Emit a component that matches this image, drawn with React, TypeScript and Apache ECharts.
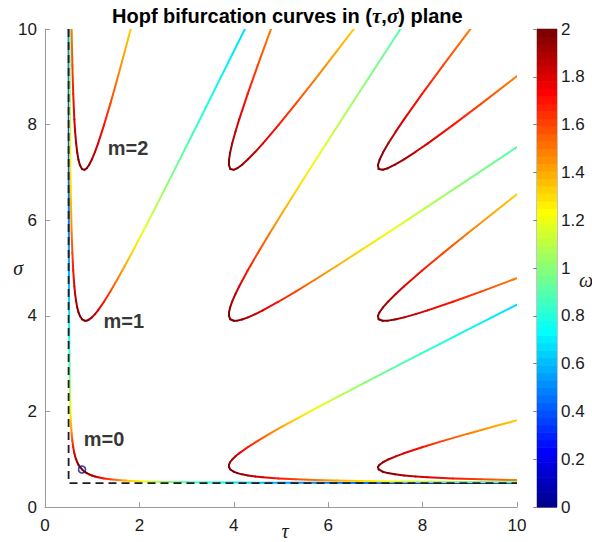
import React, { useEffect, useRef } from "react";
import * as echarts from "echarts";

type P = [number, number, number]; // [tau, sigma, omega]

// ---- Hopf bifurcation branches: [tau, sigma, omega] ----
// m = 0 (vertex at the Hopf point)
const m0Right: P[] = [
  [0.785, 0.785, 2], [0.840, 0.739, 1.99], [0.885, 0.709, 1.97], [0.936, 0.683, 1.94], [0.994, 0.660, 1.9],
  [1.060, 0.638, 1.85], [1.123, 0.622, 1.8], [1.250, 0.598, 1.7], [1.384, 0.580, 1.6], [1.529, 0.565, 1.5],
  [1.690, 0.554, 1.4], [1.872, 0.544, 1.3], [2.082, 0.536, 1.2], [2.327, 0.530, 1.1], [2.618, 0.524, 1.0],
  [2.972, 0.519, 0.9], [3.413, 0.514, 0.8], [3.977, 0.511, 0.7], [4.728, 0.508, 0.6], [5.778, 0.505, 0.5],
  [7.351, 0.504, 0.4], [9.970, 0.502, 0.3], [12.065, 0.501, 0.25],
];
const m0Left: P[] = [
  [0.785, 0.785, 2], [0.739, 0.840, 1.99], [0.709, 0.885, 1.97], [0.683, 0.936, 1.94], [0.660, 0.994, 1.9],
  [0.638, 1.060, 1.85], [0.622, 1.123, 1.8], [0.598, 1.250, 1.7], [0.580, 1.384, 1.6], [0.565, 1.529, 1.5],
  [0.554, 1.690, 1.4], [0.544, 1.872, 1.3], [0.536, 2.082, 1.2], [0.530, 2.327, 1.1], [0.524, 2.618, 1.0],
  [0.519, 2.972, 0.9], [0.514, 3.413, 0.8], [0.511, 3.977, 0.7], [0.508, 4.728, 0.6], [0.505, 5.778, 0.5],
  [0.504, 7.351, 0.4], [0.502, 9.970, 0.3], [0.501, 12.065, 0.25],
];
// m = 1, left column
const m1Right: P[] = [
  [0.785, 3.927, 2], [0.840, 3.897, 1.99], [0.885, 3.899, 1.97], [0.936, 3.922, 1.94], [0.994, 3.967, 1.9],
  [1.060, 4.035, 1.85], [1.123, 4.113, 1.8], [1.250, 4.294, 1.7], [1.384, 4.507, 1.6], [1.529, 4.754, 1.5],
  [1.690, 5.042, 1.4], [1.872, 5.378, 1.3], [2.082, 5.772, 1.2], [2.327, 6.242, 1.1], [2.618, 6.807, 1.0],
  [2.972, 7.500, 0.9], [3.413, 8.368, 0.8], [3.977, 9.487, 0.7], [4.324, 10.175, 0.65],
];
const m1Up: P[] = [
  [0.785, 3.927, 2], [0.739, 3.997, 1.99], [0.709, 4.075, 1.97], [0.683, 4.175, 1.94], [0.660, 4.301, 1.9],
  [0.638, 4.456, 1.85], [0.622, 4.614, 1.8], [0.598, 4.946, 1.7], [0.580, 5.311, 1.6], [0.565, 5.718, 1.5],
  [0.554, 6.178, 1.4], [0.544, 6.706, 1.3], [0.536, 7.318, 1.2], [0.530, 8.039, 1.1], [0.524, 8.901, 1.0],
  [0.519, 9.953, 0.9], [0.517, 10.571, 0.85],
];
// m = 2, left column
const m2Right: P[] = [
  [0.785, 7.069, 2], [0.840, 7.054, 1.99], [0.885, 7.088, 1.97], [0.936, 7.161, 1.94], [0.994, 7.274, 1.9],
  [1.060, 7.431, 1.85], [1.123, 7.603, 1.8], [1.250, 7.990, 1.7], [1.384, 8.434, 1.6], [1.529, 8.943, 1.5],
  [1.690, 9.530, 1.4], [1.872, 10.211, 1.3],
];
const m2Up: P[] = [
  [0.785, 7.069, 2], [0.739, 7.154, 1.99], [0.709, 7.264, 1.97], [0.683, 7.414, 1.94], [0.660, 7.608, 1.9],
  [0.638, 7.852, 1.85], [0.622, 8.105, 1.8], [0.598, 8.642, 1.7], [0.580, 9.238, 1.6], [0.565, 9.907, 1.5],
  [0.559, 10.274, 1.45],
];
// bottom row, vertex near tau = 3.9
const aUp: P[] = [
  [3.927, 0.785, 2], [3.897, 0.840, 1.99], [3.899, 0.885, 1.97], [3.922, 0.936, 1.94], [3.967, 0.994, 1.9],
  [4.035, 1.060, 1.85], [4.113, 1.123, 1.8], [4.294, 1.250, 1.7], [4.507, 1.384, 1.6], [4.754, 1.529, 1.5],
  [5.042, 1.690, 1.4], [5.378, 1.872, 1.3], [5.772, 2.082, 1.2], [6.242, 2.327, 1.1], [6.807, 2.618, 1.0],
  [7.500, 2.972, 0.9], [8.368, 3.413, 0.8], [9.487, 3.977, 0.7], [10.175, 4.324, 0.65],
];
const aFlat: P[] = [
  [3.927, 0.785, 2], [3.997, 0.739, 1.99], [4.075, 0.709, 1.97], [4.175, 0.683, 1.94], [4.301, 0.660, 1.9],
  [4.456, 0.638, 1.85], [4.614, 0.622, 1.8], [4.946, 0.598, 1.7], [5.311, 0.580, 1.6], [5.718, 0.565, 1.5],
  [6.178, 0.554, 1.4], [6.706, 0.544, 1.3], [7.318, 0.536, 1.2], [8.039, 0.530, 1.1], [8.901, 0.524, 1.0],
  [9.953, 0.519, 0.9], [10.571, 0.517, 0.85],
];
// bottom row, vertex near tau = 7.1
const bUp: P[] = [
  [7.069, 0.785, 2], [7.054, 0.840, 1.99], [7.088, 0.885, 1.97], [7.161, 0.936, 1.94], [7.274, 0.994, 1.9],
  [7.431, 1.060, 1.85], [7.603, 1.123, 1.8], [7.990, 1.250, 1.7], [8.434, 1.384, 1.6], [8.943, 1.529, 1.5],
  [9.530, 1.690, 1.4], [10.211, 1.872, 1.3],
];
const bFlat: P[] = [
  [7.069, 0.785, 2], [7.154, 0.739, 1.99], [7.264, 0.709, 1.97], [7.414, 0.683, 1.94], [7.608, 0.660, 1.9],
  [7.852, 0.638, 1.85], [8.105, 0.622, 1.8], [8.642, 0.598, 1.7], [9.238, 0.580, 1.6], [9.907, 0.565, 1.5],
  [10.274, 0.559, 1.45],
];
// middle, vertex near (3.9, 3.9)
const dRight: P[] = [
  [3.927, 3.927, 2], [3.997, 3.897, 1.99], [4.075, 3.899, 1.97], [4.175, 3.922, 1.94], [4.301, 3.967, 1.9],
  [4.456, 4.035, 1.85], [4.614, 4.113, 1.8], [4.946, 4.294, 1.7], [5.311, 4.507, 1.6], [5.718, 4.754, 1.5],
  [6.178, 5.042, 1.4], [6.706, 5.378, 1.3], [7.318, 5.772, 1.2], [8.039, 6.242, 1.1], [8.901, 6.807, 1.0],
  [9.400, 7.135, 0.95], [9.953, 7.500, 0.9], [10.571, 7.909, 0.85],
];
const dUp: P[] = [
  [3.927, 3.927, 2], [3.897, 3.997, 1.99], [3.899, 4.075, 1.97], [3.922, 4.175, 1.94], [3.967, 4.301, 1.9],
  [4.035, 4.456, 1.85], [4.113, 4.614, 1.8], [4.294, 4.946, 1.7], [4.507, 5.311, 1.6], [4.754, 5.718, 1.5],
  [5.042, 6.178, 1.4], [5.378, 6.706, 1.3], [5.772, 7.318, 1.2], [6.242, 8.039, 1.1], [6.807, 8.901, 1.0],
  [7.135, 9.400, 0.95], [7.500, 9.953, 0.9], [7.909, 10.571, 0.85],
];
// vertex near (3.9, 7.1)
const eRight: P[] = [
  [3.927, 7.069, 2], [3.997, 7.054, 1.99], [4.075, 7.088, 1.97], [4.175, 7.161, 1.94], [4.301, 7.274, 1.9],
  [4.456, 7.431, 1.85], [4.614, 7.603, 1.8], [4.946, 7.990, 1.7], [5.311, 8.434, 1.6], [5.718, 8.943, 1.5],
  [6.178, 9.530, 1.4], [6.706, 10.211, 1.3],
];
const eUp: P[] = [
  [3.927, 7.069, 2], [3.897, 7.154, 1.99], [3.899, 7.264, 1.97], [3.922, 7.414, 1.94], [3.967, 7.608, 1.9],
  [4.035, 7.852, 1.85], [4.113, 8.105, 1.8], [4.294, 8.642, 1.7], [4.507, 9.238, 1.6], [4.754, 9.907, 1.5],
  [4.893, 10.274, 1.45],
];
// vertex near (7.1, 3.9)
const gUp: P[] = [
  [7.069, 3.927, 2], [7.054, 3.997, 1.99], [7.088, 4.075, 1.97], [7.161, 4.175, 1.94], [7.274, 4.301, 1.9],
  [7.431, 4.456, 1.85], [7.603, 4.614, 1.8], [7.990, 4.946, 1.7], [8.434, 5.311, 1.6], [8.943, 5.718, 1.5],
  [9.530, 6.178, 1.4], [10.211, 6.706, 1.3],
];
const gRight: P[] = [
  [7.069, 3.927, 2], [7.154, 3.897, 1.99], [7.264, 3.899, 1.97], [7.414, 3.922, 1.94], [7.608, 3.967, 1.9],
  [7.852, 4.035, 1.85], [8.105, 4.113, 1.8], [8.642, 4.294, 1.7], [9.238, 4.507, 1.6], [9.907, 4.754, 1.5],
  [10.274, 4.893, 1.45],
];
// vertex near (7.1, 7.1)
const fRight: P[] = [
  [7.069, 7.069, 2], [7.154, 7.054, 1.99], [7.264, 7.088, 1.97], [7.414, 7.161, 1.94], [7.608, 7.274, 1.9],
  [7.852, 7.431, 1.85], [8.105, 7.603, 1.8], [8.642, 7.990, 1.7], [9.238, 8.434, 1.6], [9.907, 8.943, 1.5],
  [10.274, 9.226, 1.45],
];
const fUp: P[] = [
  [7.069, 7.069, 2], [7.054, 7.154, 1.99], [7.088, 7.264, 1.97], [7.161, 7.414, 1.94], [7.274, 7.608, 1.9],
  [7.431, 7.852, 1.85], [7.603, 8.105, 1.8], [7.990, 8.642, 1.7], [8.434, 9.238, 1.6], [8.943, 9.907, 1.5],
  [9.226, 10.274, 1.45],
];

const branches: P[][] = [
  m0Right, m0Left, m1Right, m1Up, m2Right, m2Up, aUp, aFlat, bUp, bFlat,
  dRight, dUp, eRight, eUp, gUp, gRight, fRight, fUp,
];

// dashed asymptotes tau = 0.5, sigma = 0.5
const asymptote = [[0.5, 10], [0.5, 0.5], [10, 0.5]];
// Hopf point on the m=0 branch
const hopfPoint = [[0.785, 0.785]];
// branch labels
const branchLabels = [
  { name: "m=0", value: [1.25, 1.42] },
  { name: "m=1", value: [1.67, 3.89] },
  { name: "m=2", value: [1.76, 7.51] },
];

const TAU_MIN = 0, TAU_MAX = 10, TAU_STEP = 2;
const SIG_MIN = 0, SIG_MAX = 10, SIG_STEP = 2;
const W_MIN = 0, W_MAX = 2, W_STEP = 0.2;
const N_COLORS = 64;

const clamp01 = (v: number) => Math.max(0, Math.min(1, v));
function jetK(k: number): string {
  const r = clamp01(Math.min((k - 24) / 16, (72 - k) / 16));
  const g = clamp01(Math.min((k - 8) / 16, (56 - k) / 16));
  const b = clamp01(Math.min((k + 8) / 16, (40 - k) / 16));
  return `rgb(${Math.round(r * 255)},${Math.round(g * 255)},${Math.round(b * 255)})`;
}
function jet(w: number): string {
  const x = (w - W_MIN) / (W_MAX - W_MIN);
  const k = Math.max(1, Math.min(N_COLORS, x * N_COLORS + 0.5));
  return jetK(k);
}

const SANS = "'Liberation Sans', Arial, Helvetica, sans-serif";
const SERIF = "'Liberation Serif', 'Times New Roman', serif";
const AXIS_GREY = "#9a9a9a";
const TEXT = "#1a1a1a";

export default function App() {
  const ref = useRef<HTMLDivElement>(null);
  useEffect(() => {
    if (!ref.current) return;
    const chart = echarts.init(ref.current, undefined, { renderer: "svg" });

    const segs: number[][] = [];
    branches.forEach((br) => {
      for (let i = 0; i < br.length - 1; i++) {
        segs.push([br[i][0], br[i][1], br[i][2], br[i + 1][0], br[i + 1][1], br[i + 1][2]]);
      }
    });
    const bands = Array.from({ length: N_COLORS }, (_, i) => [i]);

    chart.setOption({
      animation: false,
      backgroundColor: "#fff",
      title: {
        text: "{b|Hopf bifurcation curves in (}{g|τ}{b|,}{g|σ}{b|) plane}",
        left: 107,
        top: 0,
        textStyle: {
          rich: {
            b: { fontFamily: SANS, fontWeight: "bold", fontSize: 20, color: "#000" },
            g: { fontFamily: SERIF, fontStyle: "italic", fontSize: 21, color: "#000" },
          },
        },
      },
      grid: [
        { left: 45, top: 29, width: 472, height: 478, outerBoundsMode: "none", containLabel: false },
        {
          left: 537, top: 29, width: 20, height: 478, show: true,
          outerBoundsMode: "none", containLabel: false,
          borderColor: "#8c8c8c", borderWidth: 1, backgroundColor: "transparent",
        },
      ],
      xAxis: [
        {
          type: "value", gridIndex: 0, min: TAU_MIN, max: TAU_MAX, interval: TAU_STEP,
          name: "τ", nameLocation: "middle", nameGap: 14, nameMoveOverlap: false,
          nameTextStyle: {
            fontFamily: SERIF, fontStyle: "italic", fontSize: 20, color: TEXT,
            padding: [0, 0, 0, 8],
          },
          axisLine: { lineStyle: { color: AXIS_GREY, width: 1 } },
          axisTick: { inside: true, length: 5, lineStyle: { color: AXIS_GREY } },
          axisLabel: { fontFamily: SANS, fontSize: 17, color: TEXT, margin: 10 },
          splitLine: { show: false },
        },
        { type: "value", gridIndex: 1, min: 0, max: 1, show: false },
      ],
      yAxis: [
        {
          type: "value", gridIndex: 0, min: SIG_MIN, max: SIG_MAX, interval: SIG_STEP,
          name: "σ", nameLocation: "middle", nameGap: 22, nameRotate: 0, nameMoveOverlap: false,
          nameTextStyle: {
            fontFamily: SERIF, fontStyle: "italic", fontSize: 20, color: TEXT,
            verticalAlign: "middle", padding: [0, 0, 22, 0],
          },
          axisLine: { lineStyle: { color: AXIS_GREY, width: 1 } },
          axisTick: { inside: true, length: 5, lineStyle: { color: AXIS_GREY } },
          axisLabel: { fontFamily: SANS, fontSize: 17, color: TEXT, margin: 8 },
          splitLine: { show: false },
        },
        {
          type: "value", gridIndex: 1, position: "right", min: W_MIN, max: W_MAX, interval: W_STEP,
          axisLine: { show: true, lineStyle: { color: "#8c8c8c", width: 1 } },
          axisTick: { show: true, inside: true, length: 4, lineStyle: { color: "#8c8c8c" } },
          axisLabel: { fontFamily: SANS, fontSize: 17, color: TEXT, margin: 4 },
          splitLine: { show: false },
        },
      ],
      graphic: [
        {
          type: "text", left: 579, top: 270,
          style: { text: "ω", font: `italic 20px ${SERIF}`, fill: TEXT },
        },
      ],
      series: [
        {
          type: "custom",
          xAxisIndex: 1, yAxisIndex: 1,
          data: bands,
          encode: { x: -1, y: 0 },
          silent: true,
          renderItem: (params: any, api: any) => {
            const i = api.value(0);
            const lo = api.coord([0, W_MIN + (i * (W_MAX - W_MIN)) / N_COLORS]);
            const hi = api.coord([1, W_MIN + ((i + 1) * (W_MAX - W_MIN)) / N_COLORS]);
            return {
              type: "rect",
              shape: { x: lo[0], y: hi[1], width: hi[0] - lo[0], height: lo[1] - hi[1] + 0.6 },
              style: { fill: jetK(i + 1) },
            };
          },
          z: 1,
        },
        {
          type: "custom",
          xAxisIndex: 0, yAxisIndex: 0,
          data: segs,
          encode: { x: [0, 3], y: [1, 4] },
          clip: true,
          silent: true,
          renderItem: (params: any, api: any) => {
            const p1 = api.coord([api.value(0), api.value(1)]);
            const p2 = api.coord([api.value(3), api.value(4)]);
            const c1 = jet(api.value(2));
            const c2 = jet(api.value(5));
            return {
              type: "line",
              shape: { x1: p1[0], y1: p1[1], x2: p2[0], y2: p2[1] },
              style: {
                stroke: new echarts.graphic.LinearGradient(
                  p1[0], p1[1], p2[0], p2[1],
                  [{ offset: 0, color: c1 }, { offset: 1, color: c2 }],
                  true
                ),
                lineWidth: 2,
                lineCap: "round",
              },
            };
          },
          z: 2,
        },
        {
          type: "line",
          xAxisIndex: 0, yAxisIndex: 0,
          data: asymptote,
          symbol: "none",
          lineStyle: { color: "#1e1e1e", width: 1.8, type: [8, 5] },
          silent: true,
          z: 3,
        },
        {
          type: "scatter",
          xAxisIndex: 0, yAxisIndex: 0,
          data: hopfPoint,
          symbol: "circle",
          symbolSize: 7,
          itemStyle: { color: "rgba(0,0,0,0)", borderColor: "#12128c", borderWidth: 1.6 },
          silent: true,
          z: 4,
        },
        {
          type: "scatter",
          xAxisIndex: 0, yAxisIndex: 0,
          data: branchLabels,
          symbol: "circle",
          symbolSize: 0.1,
          itemStyle: { color: "rgba(0,0,0,0)" },
          label: {
            show: true, position: "inside", formatter: (p: any) => p.name,
            fontFamily: SANS, fontWeight: "bold", fontSize: 20, color: "#000",
          },
          silent: true,
          z: 5,
        },
      ],
    });
    return () => chart.dispose();
  }, []);
  return <div ref={ref} style={{ position: "absolute", left: 0, top: 0, width: 592, height: 542 }} />;
}
